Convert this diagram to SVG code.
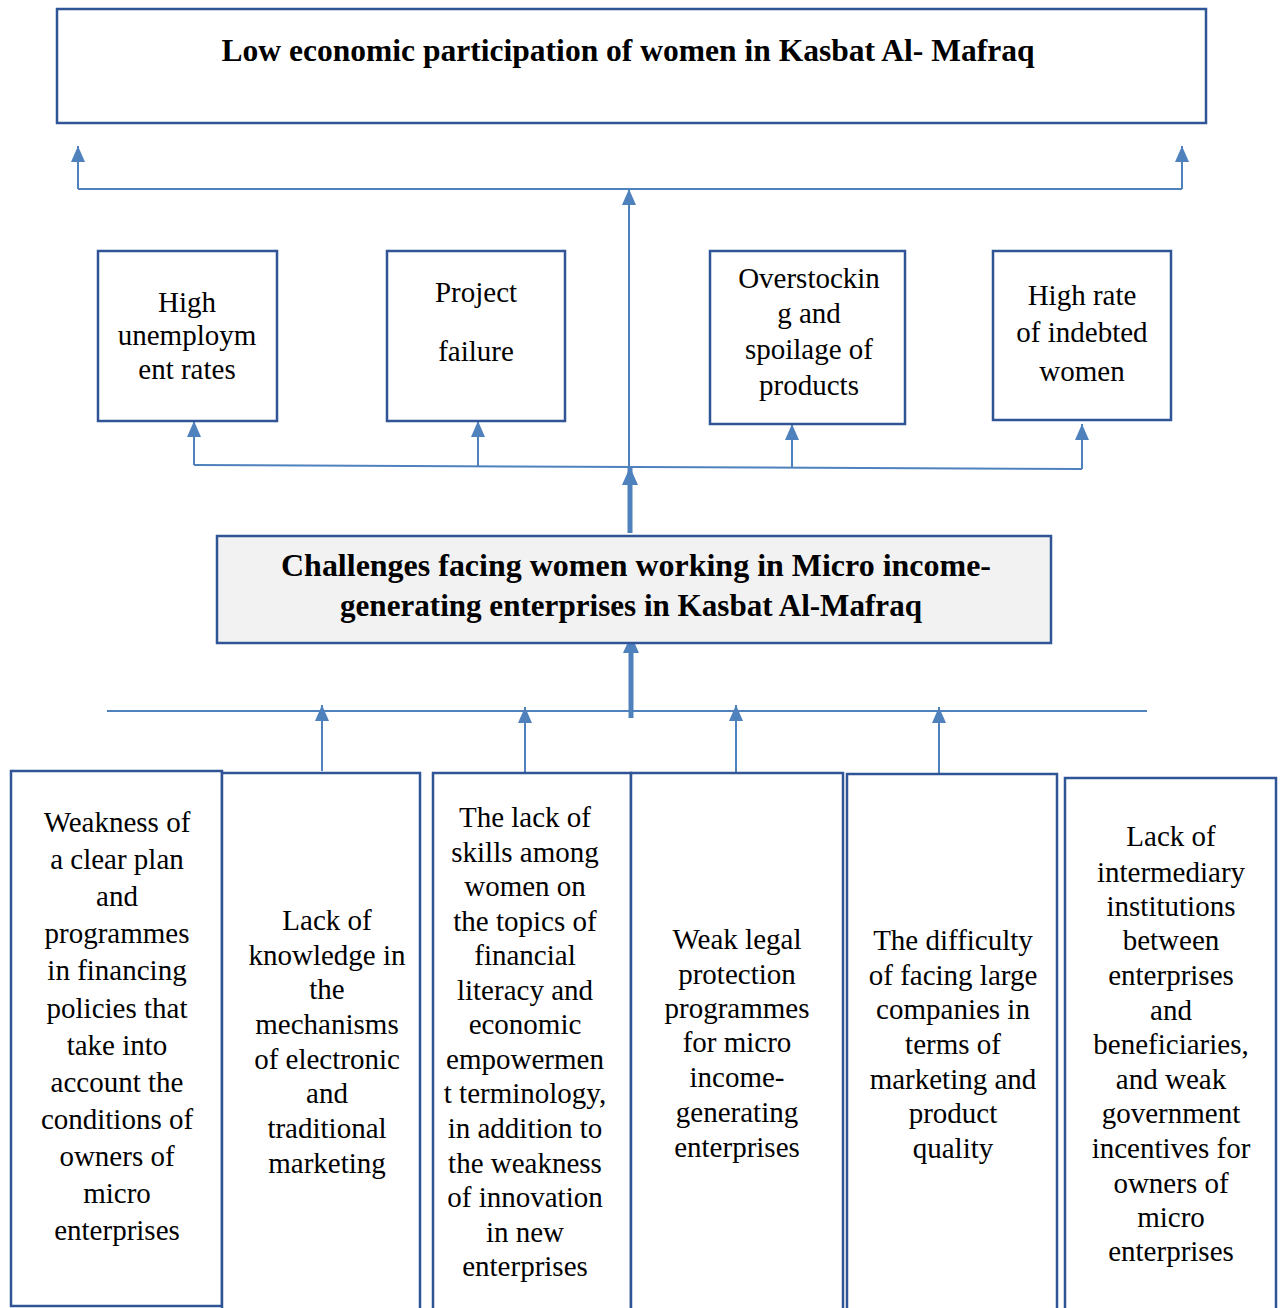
<svg xmlns="http://www.w3.org/2000/svg" width="1282" height="1308" viewBox="0 0 1282 1308">
<defs>
<style>
.box{fill:#ffffff;stroke:#2F5597;stroke-width:2.5}
.mid{fill:#F2F2F2;stroke:#2F5597;stroke-width:2.5}
.t{font-family:"Liberation Serif","Times New Roman",serif;font-size:29px;fill:#000;text-anchor:middle}
.b{font-family:"Liberation Serif","Times New Roman",serif;font-weight:bold;fill:#000;text-anchor:middle}
.c{fill:none;stroke:#4F81BD;stroke-width:2}
.ct{fill:none;stroke:#4F81BD;stroke-width:5}
</style>
<marker id="arr" viewBox="0 0 16 14" refX="16" refY="7" markerWidth="16" markerHeight="14" markerUnits="userSpaceOnUse" orient="auto">
<path d="M0,0 L16,7 L0,14 z" fill="#4F81BD"/>
</marker>
<marker id="arrBig" viewBox="0 0 18 16" refX="18" refY="8" markerWidth="18" markerHeight="16" markerUnits="userSpaceOnUse" orient="auto">
<path d="M0,0 L18,8 L0,16 z" fill="#4F81BD"/>
</marker>
</defs>
<rect width="1282" height="1308" fill="#ffffff"/>

<g id="connectors">
<path class="c" d="M78,189 H1182"/>
<path class="c" d="M78,189 V146" marker-end="url(#arr)"/>
<path class="c" d="M1182,189 V146" marker-end="url(#arr)"/>
<path class="c" d="M629,468 V189" marker-end="url(#arr)"/>
<path class="c" d="M194,465 L1082,469"/>
<path class="c" d="M194,465 V421" marker-end="url(#arr)"/>
<path class="c" d="M478,466 V421" marker-end="url(#arr)"/>
<path class="c" d="M792,468 V424" marker-end="url(#arr)"/>
<path class="c" d="M1082,469 V424" marker-end="url(#arr)"/>
<path class="ct" d="M630,533 V467" marker-end="url(#arrBig)"/>
<path class="ct" d="M631,718 V635" marker-end="url(#arrBig)"/>
<path class="c" d="M107,711 H1147"/>
<path class="c" d="M322,771 V705" marker-end="url(#arr)"/>
<path class="c" d="M525,773 V707" marker-end="url(#arr)"/>
<path class="c" d="M736,773 V705" marker-end="url(#arr)"/>
<path class="c" d="M939,774 V707" marker-end="url(#arr)"/>
</g>

<g id="top">
<rect class="box" x="57" y="9" width="1149" height="114"/>
<text class="b" x="628" y="61" font-size="31" textLength="813" lengthAdjust="spacingAndGlyphs">Low economic participation of women in Kasbat Al- Mafraq</text>
</g>

<g id="effect1">
<rect class="box" x="98" y="251" width="179" height="170"/>
<text class="t" x="187" y="312">High</text>
<text class="t" x="187" y="345">unemploym</text>
<text class="t" x="187" y="379">ent rates</text>
</g>
<g id="effect2">
<rect class="box" x="387" y="251" width="178" height="170"/>
<text class="t" x="476" y="302">Project</text>
<text class="t" x="476" y="361">failure</text>
</g>
<g id="effect3">
<rect class="box" x="710" y="251" width="195" height="173"/>
<text class="t" x="809" y="288">Overstockin</text>
<text class="t" x="809" y="323">g and</text>
<text class="t" x="809" y="359">spoilage of</text>
<text class="t" x="809" y="395">products</text>
</g>
<g id="effect4">
<rect class="box" x="993" y="251" width="178" height="169"/>
<text class="t" x="1082" y="305">High rate</text>
<text class="t" x="1082" y="342">of indebted</text>
<text class="t" x="1082" y="381">women</text>
</g>

<g id="core">
<rect class="mid" x="217" y="536" width="834" height="107"/>
<text class="b" x="636" y="576" font-size="31" textLength="710" lengthAdjust="spacingAndGlyphs">Challenges facing women working in Micro income-</text>
<text class="b" x="631" y="616" font-size="31" textLength="582" lengthAdjust="spacingAndGlyphs">generating enterprises in Kasbat Al-Mafraq</text>
</g>

<g id="cause1">
<rect class="box" x="11" y="771" width="211" height="535"/>
<text class="t" x="117" y="832">Weakness of</text>
<text class="t" x="117" y="869">a clear plan</text>
<text class="t" x="117" y="906">and</text>
<text class="t" x="117" y="943">programmes</text>
<text class="t" x="117" y="980">in financing</text>
<text class="t" x="117" y="1018">policies that</text>
<text class="t" x="117" y="1055">take into</text>
<text class="t" x="117" y="1092">account the</text>
<text class="t" x="117" y="1129">conditions of</text>
<text class="t" x="117" y="1166">owners of</text>
<text class="t" x="117" y="1203">micro</text>
<text class="t" x="117" y="1240">enterprises</text>
</g>
<g id="cause2">
<rect class="box" x="222" y="773" width="198" height="560"/>
<text class="t" x="327" y="930">Lack of</text>
<text class="t" x="327" y="965">knowledge in</text>
<text class="t" x="327" y="999">the</text>
<text class="t" x="327" y="1034">mechanisms</text>
<text class="t" x="327" y="1069">of electronic</text>
<text class="t" x="327" y="1103">and</text>
<text class="t" x="327" y="1138">traditional</text>
<text class="t" x="327" y="1173">marketing</text>
</g>
<g id="cause3">
<rect class="box" x="433" y="773" width="198" height="560"/>
<text class="t" x="525" y="827">The lack of</text>
<text class="t" x="525" y="862">skills among</text>
<text class="t" x="525" y="896">women on</text>
<text class="t" x="525" y="931">the topics of</text>
<text class="t" x="525" y="965">financial</text>
<text class="t" x="525" y="1000">literacy and</text>
<text class="t" x="525" y="1034">economic</text>
<text class="t" x="525" y="1069">empowermen</text>
<text class="t" x="525" y="1103">t terminology,</text>
<text class="t" x="525" y="1138">in addition to</text>
<text class="t" x="525" y="1173">the weakness</text>
<text class="t" x="525" y="1207">of innovation</text>
<text class="t" x="525" y="1242">in new</text>
<text class="t" x="525" y="1276">enterprises</text>
</g>
<g id="cause4">
<rect class="box" x="631" y="773" width="212" height="560"/>
<text class="t" x="737" y="949">Weak legal</text>
<text class="t" x="737" y="984">protection</text>
<text class="t" x="737" y="1018">programmes</text>
<text class="t" x="737" y="1052">for micro</text>
<text class="t" x="737" y="1087">income-</text>
<text class="t" x="737" y="1122">generating</text>
<text class="t" x="737" y="1157">enterprises</text>
</g>
<g id="cause5">
<rect class="box" x="847" y="774" width="210" height="560"/>
<text class="t" x="953" y="950">The difficulty</text>
<text class="t" x="953" y="985">of facing large</text>
<text class="t" x="953" y="1019">companies in</text>
<text class="t" x="953" y="1054">terms of</text>
<text class="t" x="953" y="1089">marketing and</text>
<text class="t" x="953" y="1123">product</text>
<text class="t" x="953" y="1158">quality</text>
</g>
<g id="cause6">
<rect class="box" x="1065" y="778" width="211" height="560"/>
<text class="t" x="1171" y="846">Lack of</text>
<text class="t" x="1171" y="882">intermediary</text>
<text class="t" x="1171" y="916">institutions</text>
<text class="t" x="1171" y="950">between</text>
<text class="t" x="1171" y="985">enterprises</text>
<text class="t" x="1171" y="1020">and</text>
<text class="t" x="1171" y="1054">beneficiaries,</text>
<text class="t" x="1171" y="1089">and weak</text>
<text class="t" x="1171" y="1123">government</text>
<text class="t" x="1171" y="1158">incentives for</text>
<text class="t" x="1171" y="1193">owners of</text>
<text class="t" x="1171" y="1227">micro</text>
<text class="t" x="1171" y="1261">enterprises</text>
</g>
</svg>
